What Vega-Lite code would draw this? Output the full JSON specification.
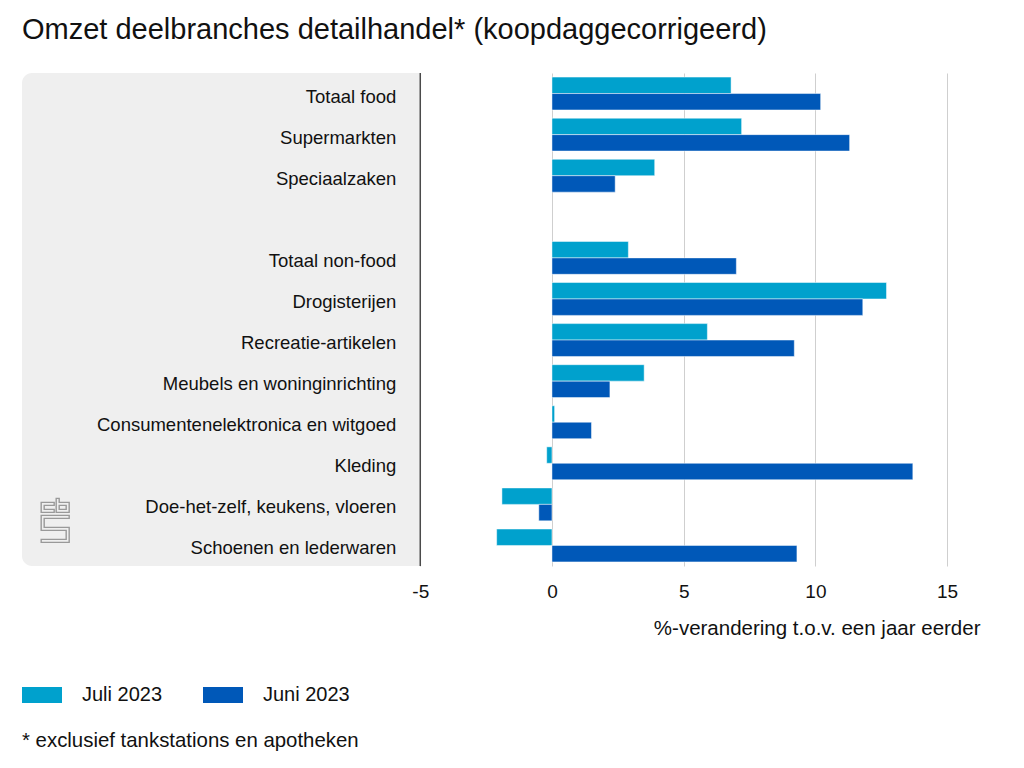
{
  "$schema": "https://vega.github.io/schema/vega-lite/v6.json",
  "width": 958,
  "height": 493,
  "autosize": {"type": "none"},
  "padding": {"left": 22, "top": 73, "right": 44, "bottom": 202},
  "background": "#ffffff",
  "config": {
    "font": "Liberation Sans",
    "view": {"stroke": null},
    "title": {"fontSize": 29, "fontWeight": "normal", "color": "#111111", "anchor": "start", "frame": "group", "offset": 27}
  },
  "title": "Omzet deelbranches detailhandel* (koopdaggecorrigeerd)",
  "datasets": {
    "bars": [
      {"categorie": "Totaal food", "periode": "Juli 2023", "waarde": 6.8},
      {"categorie": "Totaal food", "periode": "Juni 2023", "waarde": 10.2},
      {"categorie": "Supermarkten", "periode": "Juli 2023", "waarde": 7.2},
      {"categorie": "Supermarkten", "periode": "Juni 2023", "waarde": 11.3},
      {"categorie": "Speciaalzaken", "periode": "Juli 2023", "waarde": 3.9},
      {"categorie": "Speciaalzaken", "periode": "Juni 2023", "waarde": 2.4},
      {"categorie": "Totaal non-food", "periode": "Juli 2023", "waarde": 2.9},
      {"categorie": "Totaal non-food", "periode": "Juni 2023", "waarde": 7.0},
      {"categorie": "Drogisterijen", "periode": "Juli 2023", "waarde": 12.7},
      {"categorie": "Drogisterijen", "periode": "Juni 2023", "waarde": 11.8},
      {"categorie": "Recreatie-artikelen", "periode": "Juli 2023", "waarde": 5.9},
      {"categorie": "Recreatie-artikelen", "periode": "Juni 2023", "waarde": 9.2},
      {"categorie": "Meubels en woninginrichting", "periode": "Juli 2023", "waarde": 3.5},
      {"categorie": "Meubels en woninginrichting", "periode": "Juni 2023", "waarde": 2.2},
      {"categorie": "Consumentenelektronica en witgoed", "periode": "Juli 2023", "waarde": 0.1},
      {"categorie": "Consumentenelektronica en witgoed", "periode": "Juni 2023", "waarde": 1.5},
      {"categorie": "Kleding", "periode": "Juli 2023", "waarde": -0.2},
      {"categorie": "Kleding", "periode": "Juni 2023", "waarde": 13.7},
      {"categorie": "Doe-het-zelf, keukens, vloeren", "periode": "Juli 2023", "waarde": -1.9},
      {"categorie": "Doe-het-zelf, keukens, vloeren", "periode": "Juni 2023", "waarde": -0.5},
      {"categorie": "Schoenen en lederwaren", "periode": "Juli 2023", "waarde": -2.1},
      {"categorie": "Schoenen en lederwaren", "periode": "Juni 2023", "waarde": 9.3}
    ],
    "cats": [
      {"categorie": "Totaal food"},
      {"categorie": "Supermarkten"},
      {"categorie": "Speciaalzaken"},
      {"categorie": "Totaal non-food"},
      {"categorie": "Drogisterijen"},
      {"categorie": "Recreatie-artikelen"},
      {"categorie": "Meubels en woninginrichting"},
      {"categorie": "Consumentenelektronica en witgoed"},
      {"categorie": "Kleding"},
      {"categorie": "Doe-het-zelf, keukens, vloeren"},
      {"categorie": "Schoenen en lederwaren"}
    ],
    "logo": [{"categorie": "Doe-het-zelf, keukens, vloeren", "x": -18.86}]
  },
  "layer": [
    {
      "data": {"values": [{"van": -20.12, "tot": -5}]},
      "mark": {"type": "rect", "color": "#efefef", "cornerRadiusTopLeft": 10, "cornerRadiusBottomLeft": 10},
      "encoding": {
        "x": {"field": "van", "type": "quantitative", "scale": {"domain": [-20.12, 16.25], "nice": false, "zero": false}},
        "x2": {"field": "tot"}
      }
    },
    {
      "data": {"name": "bars"},
      "mark": {"type": "bar", "stroke": "#ffffff", "strokeWidth": 0.8, "strokeOpacity": 0.6},
      "encoding": {
        "y": {
          "field": "categorie", "type": "nominal",
          "scale": {
            "domain": ["Totaal food", "Supermarkten", "Speciaalzaken", " ", "Totaal non-food", "Drogisterijen", "Recreatie-artikelen", "Meubels en woninginrichting", "Consumentenelektronica en witgoed", "Kleding", "Doe-het-zelf, keukens, vloeren", "Schoenen en lederwaren"],
            "paddingInner": 0.2, "paddingOuter": 0.1
          },
          "axis": null
        },
        "yOffset": {"field": "periode", "type": "nominal", "scale": {"domain": ["Juli 2023", "Juni 2023"], "paddingInner": 0, "paddingOuter": 0}},
        "x": {
          "field": "waarde", "type": "quantitative",
          "scale": {"domain": [-20.12, 16.25], "nice": false, "zero": false},
          "axis": {
            "values": [-5, 0, 5, 10, 15],
            "labelExpr": "datum.value + ''",
            "grid": true, "gridColor": "#cfcfcf", "gridWidth": 1,
            "domain": false, "ticks": false, "tickSize": 0,
            "labelFontSize": 19, "labelColor": "#111111", "labelPadding": 16,
            "title": "%-verandering t.o.v. een jaar eerder",
            "titleFontSize": 20.5, "titleFontWeight": "normal", "titleColor": "#111111",
            "titleAnchor": "end", "titleAlign": "right", "titlePadding": 17
          }
        },
        "x2": {"datum": 0},
        "color": {
          "field": "periode", "type": "nominal",
          "scale": {"domain": ["Juli 2023", "Juni 2023"], "range": ["#00a1cd", "#0058b8"]},
          "legend": {
            "orient": "none", "legendX": 0, "legendY": 602,
            "direction": "horizontal",
            "title": "* exclusief tankstations en apotheken",
            "titleOrient": "bottom", "titleAnchor": "start", "titleFontSize": 20.4, "titleFontWeight": "normal", "titleColor": "#111111", "titlePadding": 26, "titleLimit": 600,
            "symbolType": "M-1,-0.4H1V0.4H-1Z", "symbolSize": 1600, "symbolStrokeWidth": 0, "symbolOpacity": 1,
            "labelFontSize": 20, "labelColor": "#111111", "labelOffset": 20, "columnPadding": 40
          }
        }
      }
    },
    {
      "data": {"values": [{}]},
      "mark": {"type": "rule", "color": "#4a4a4a", "strokeWidth": 1.5},
      "encoding": {"x": {"datum": -5}}
    },
    {
      "data": {"name": "cats"},
      "mark": {"type": "text", "align": "right", "baseline": "middle", "dx": -24, "dy": 3, "fontSize": 18.5, "color": "#111111"},
      "encoding": {
        "y": {"field": "categorie", "type": "nominal"},
        "x": {"datum": -5},
        "text": {"field": "categorie"}
      }
    },
    {
      "data": {"name": "logo"},
      "mark": {
        "type": "point", "filled": false, "stroke": "#999999", "strokeWidth": 1.4, "opacity": 1, "size": 4,
        "shape": "M-14,-2H-1V1H-11V5H-1V8H-14Z M1,-6H4V-2H14V8H1Z M4,1H11V5H4Z M-14,11H14V14H-11V23H14V38H-14V35H11V26H-14Z"
      },
      "encoding": {
        "y": {"field": "categorie", "type": "nominal"},
        "x": {"field": "x", "type": "quantitative"}
      }
    }
  ]
}
